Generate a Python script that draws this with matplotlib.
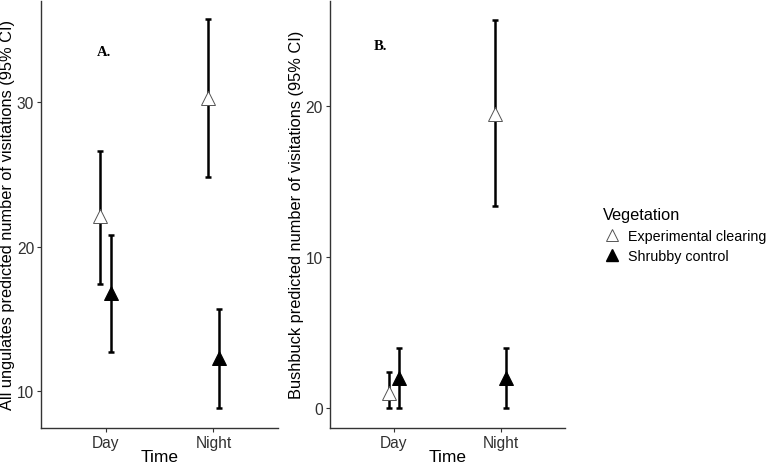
import matplotlib
matplotlib.use("Agg")
import matplotlib.pyplot as plt
from matplotlib.lines import Line2D
import numpy as np

plt.rcParams["font.family"] = ["Liberation Sans", "DejaVu Sans"]

times = ["Day", "Night"]

# Panel A: all ungulates
a_exp = [22.1, 30.3]
a_exp_lo = [17.4, 24.8]
a_exp_hi = [26.6, 35.7]
a_shr = [16.8, 12.3]
a_shr_lo = [12.7, 8.8]
a_shr_hi = [20.8, 15.7]

# Panel B: bushbuck
b_exp = [1.0, 19.5]
b_exp_lo = [0.0, 13.4]
b_exp_hi = [2.4, 25.7]
b_shr = [2.0, 2.0]
b_shr_lo = [0.0, 0.0]
b_shr_hi = [4.0, 4.0]

AXIS = "#333333"
DODGE = 0.05


def panel(ax, exp, exp_lo, exp_hi, shr, shr_lo, shr_hi, ylim, yticks, ylabel):
    x = np.arange(1, len(times) + 1)
    for xs, m, lo, hi, face in (
        (x - DODGE, exp, exp_lo, exp_hi, "white"),
        (x + DODGE, shr, shr_lo, shr_hi, "black"),
    ):
        m = np.array(m)
        err = [m - np.array(lo), np.array(hi) - m]
        ax.errorbar(xs, m, yerr=err, fmt="none", ecolor="black",
                    elinewidth=1.8, capsize=2.5, capthick=1.8, zorder=2)
        ax.plot(xs, m, linestyle="none", marker="^", markersize=10,
                markerfacecolor=face,
                markeredgecolor="black" if face == "black" else "#555555",
                markeredgewidth=0.7, zorder=3)
    ax.set_xlim(0.4, 2.6)
    ax.set_ylim(*ylim)
    ax.set_xticks(x)
    ax.set_xticklabels(times)
    ax.set_yticks(yticks)
    ax.set_xlabel("Time", fontsize=12.5, color="black", labelpad=-1)
    ax.set_ylabel(ylabel, fontsize=11.8, color="black", labelpad=1)
    for s in ("top", "right"):
        ax.spines[s].set_visible(False)
    for s in ("left", "bottom"):
        ax.spines[s].set_color(AXIS)
        ax.spines[s].set_linewidth(1.0)
    ax.tick_params(labelsize=11.2, colors=AXIS, labelcolor="#303030",
                   length=3, pad=2)


fig = plt.figure(figsize=(7.67, 4.64), dpi=100)
ax1 = fig.add_axes([0.0535, 0.0754, 0.309, 0.921])
ax2 = fig.add_axes([0.430, 0.0754, 0.3066, 0.921])

panel(ax1, a_exp, a_exp_lo, a_exp_hi, a_shr, a_shr_lo, a_shr_hi,
      (7.45, 37.0), [10, 20, 30],
      "All ungulates predicted number of visitations (95% CI)")
panel(ax2, b_exp, b_exp_lo, b_exp_hi, b_shr, b_shr_lo, b_shr_hi,
      (-1.3, 27.0), [0, 10, 20],
      "Bushbuck predicted number of visitations (95% CI)")

ax1.text(0.98, 33.5, "A.", fontfamily="Liberation Serif", fontweight="bold",
         fontsize=10.5, ha="center", va="center")
ax2.text(0.87, 24.0, "B.", fontfamily="Liberation Serif", fontweight="bold",
         fontsize=10.5, ha="center", va="center")

handles = [
    Line2D([], [], linestyle="none", marker="^", markersize=9,
           markerfacecolor="white", markeredgecolor="#555555",
           markeredgewidth=0.7),
    Line2D([], [], linestyle="none", marker="^", markersize=9,
           markerfacecolor="black", markeredgecolor="black"),
]
fig.legend(handles, ["Experimental clearing", "Shrubby control"],
           title="Vegetation", loc="upper left", bbox_to_anchor=(0.779, 0.563),
           frameon=False, fontsize=10.3, title_fontsize=11.8,
           handletextpad=0.5, labelspacing=0.45, alignment="left",
           borderaxespad=0, handlelength=1.2)

fig.savefig("out.png", dpi=100, facecolor="white")
